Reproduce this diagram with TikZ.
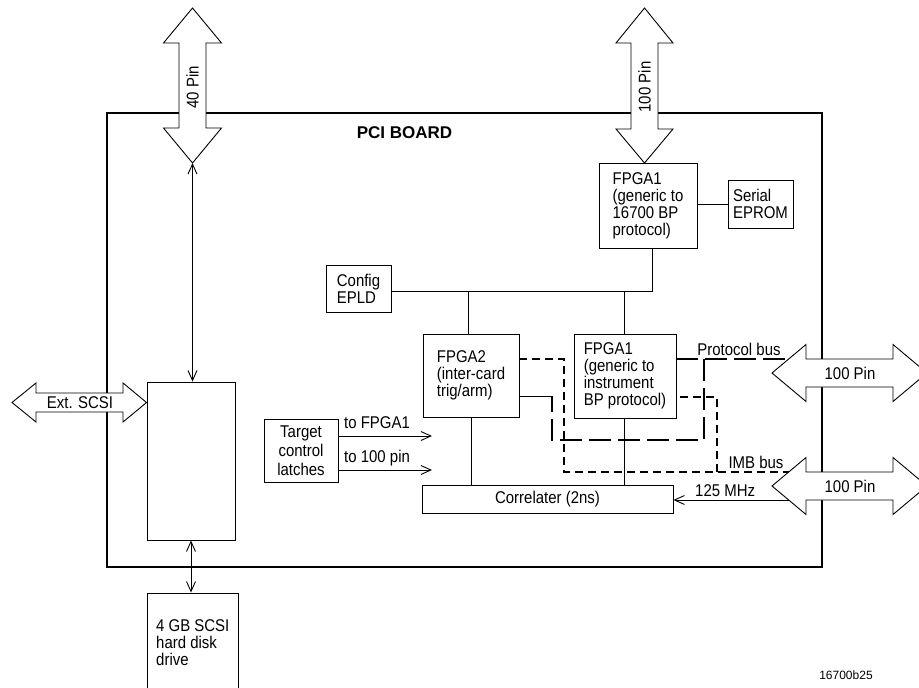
\documentclass[tikz,border=0pt]{standalone}
\usepackage{fontspec}
\setmainfont{Liberation Sans}[FakeStretch=0.88]
\newfontfamily\plainfont{Liberation Sans}
\usetikzlibrary{arrows.meta}
\begin{document}
\begin{tikzpicture}[x=1pt,y=-1pt,
  >={Straight Barb[length=10pt,width=9pt]},
  box/.style={draw, line width=0.9pt, inner sep=0pt, align=left, font=\fontsize{17}{17}\selectfont},
  txt/.style={inner sep=0pt, font=\fontsize{17}{17}\selectfont},
  wire/.style={line width=0.9pt},
  board/.style={line width=2.4pt},
  ldash/.style={line width=2pt, dash pattern=on 22pt off 7pt},
  sdash/.style={line width=2pt, dash pattern=on 8pt off 5pt},
  bigarrow/.style={draw, line width=0.9pt, fill=white, line join=miter}
]
\useasboundingbox (0,0) rectangle (919,688);
\clip (0,0) rectangle (919,688);

% PCI board outline
\draw[board] (107,113) rectangle (822,567);
\node[inner sep=0pt, font=\plainfont\fontsize{17}{19}\selectfont\bfseries] (pci) at (404.5,133) {PCI BOARD};

% boxes
\node[box, minimum width=98pt, minimum height=85pt] (f1t) at (648,205.5) {FPGA1\\(generic to\\16700 BP\\protocol)};
\node[box, minimum width=65pt, minimum height=48pt] (eprom) at (760.5,204) {Serial\\EPROM};
\node[box, minimum width=65pt, minimum height=47pt] (config) at (358.5,288.5) {Config\\EPLD};
\node[box, minimum width=96pt, minimum height=83pt] (f2) at (471,375.5) {FPGA2\\(inter-card\\trig/arm)};
\node[box, minimum width=102pt, minimum height=84pt] (f1l) at (625,376) {FPGA1\\(generic to\\instrument\\BP protocol)};
\node[box, minimum width=251pt, minimum height=28pt, align=center] (corr) at (547.5,499) {Correlater (2ns)};
\node[box, minimum width=74pt, minimum height=63pt, align=center, font=\fontsize{17}{19}\selectfont] (tgt) at (301,450.5) {Target\\control\\latches};
\node[box, minimum width=88pt, minimum height=158pt] (scsi) at (191,461) {};
\node[box, minimum width=91pt, minimum height=127pt] (disk) at (192.5,656.5) {};
\node[txt, align=left, anchor=north west] (disktext) at (156,619) {4 GB SCSI\\hard disk\\drive};

% coordinates
\coordinate (p40b) at (192.5,163);
\coordinate (p100b) at (644.5,163);
\coordinate (busR) at (652,291);
\coordinate (busA) at (468,291);
\coordinate (busB) at (624,291);
\coordinate (tA) at (432,436);
\coordinate (tB) at (432,470);
\coordinate (mhz) at (790,500);
\coordinate (pb) at (790,359);
\coordinate (imb) at (790,472);

% solid wires
\draw[wire, <->] (p40b) -- (p40b |- scsi.north);
\draw[wire, <->] (scsi.south) -- (scsi.south |- disk.north);
\draw[wire] (f1t.east |- eprom.west) -- (eprom.west);
\draw[wire] (f1t.south -| busR) -- (busR) -- (busR -| config.east);
\draw[wire] (busA) -- (busA |- f2.north);
\draw[wire] (busB) -- (busB |- f1l.north);
\draw[wire] (f2.south) -- (f2.south |- corr.north);
\draw[wire] (f1l.south -| busB) -- (busB |- corr.north);
\draw[wire, ->] (tA -| tgt.east) -- (tA);
\draw[wire, ->] (tB -| tgt.east) -- (tB);
\draw[wire, ->] (mhz) -- (mhz -| corr.east);
\draw[wire] (f2.east |- 0,396) -- (552,396);

% dashed buses
\draw[ldash] (pb -| f1l.east) -- (pb);
\draw[ldash] (704,359) -- (704,440) -- (552,440) -- (552,396);
\draw[sdash] (f2.east |- 0,359) -- (564,359) -- (564,472) -- (imb);
\draw[sdash] (717,472) -- (717,397) -- (f1l.east |- 0,397);

% labels
\node[txt, anchor=west] (lfpga) at (344,423) {to FPGA1};
\node[txt, anchor=west] (l100) at (344,458) {to 100 pin};
\node[txt] (lpb) at (739,349) {Protocol bus};
\node[txt] (limb) at (756,462) {IMB bus};
\node[txt, anchor=west] (lmhz) at (695,491) {125 MHz};
\node[inner sep=0pt, font=\plainfont\fontsize{12}{14}\selectfont] (fig) at (846,675) {16700b25};

% big double arrows
\draw[bigarrow] (192.5,8) -- (221.5,43) -- (206,43) -- (206,128) -- (221.5,128) -- (p40b) -- (163.5,128) -- (179,128) -- (179,43) -- (163.5,43) -- cycle;
\node[txt, rotate=90] (t40) at (192.5,87.5) {40 Pin};

\draw[bigarrow] (644.5,8) -- (673,43) -- (658,43) -- (658,129) -- (673,129) -- (p100b) -- (616,129) -- (631,129) -- (631,43) -- (616,43) -- cycle;
\node[txt, rotate=90] (t100) at (644.5,87) {100 Pin};

\draw[bigarrow] (12,402.5) -- (36,383) -- (36,393) -- (123,393) -- (123,383) -- (scsi.west |- 0,402.5) -- (123,422) -- (123,412) -- (36,412) -- (36,422) -- cycle;
\node[txt] (text) at (80,403) {Ext. SCSI};

\draw[bigarrow] (772,373) -- (806,344.5) -- (806,359) -- (893,359) -- (893,344.5) -- (927,373) -- (893,401.5) -- (893,387) -- (806,387) -- (806,401.5) -- cycle;
\node[txt] (tr1) at (850,373) {100 Pin};

\draw[bigarrow] (772,486) -- (806,457.5) -- (806,472) -- (893,472) -- (893,457.5) -- (927,486) -- (893,514.5) -- (893,500) -- (806,500) -- (806,514.5) -- cycle;
\node[txt] (tr2) at (850,486) {100 Pin};
\end{tikzpicture}
\end{document}
